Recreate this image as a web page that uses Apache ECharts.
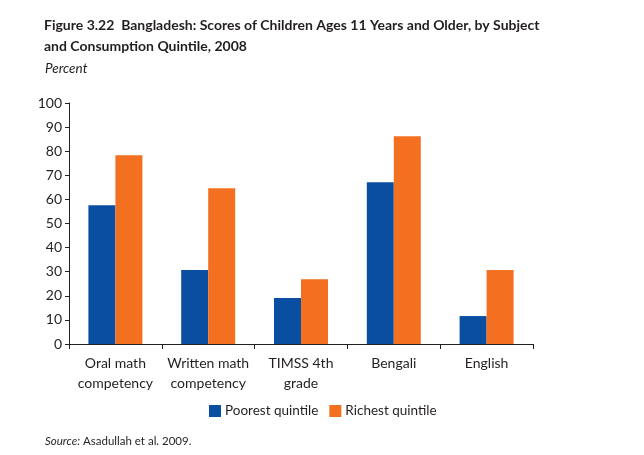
<!DOCTYPE html>
<html><head><meta charset="utf-8">
<script src="https://cdn.jsdelivr.net/npm/echarts@6/dist/echarts.min.js"></script>
<style>html,body{margin:0;padding:0;background:#fff}#c{width:644px;height:455px}</style>
</head><body><div id="c"></div>
<script>
var categories = ['Oral math\ncompetency', 'Written math\ncompetency', 'TIMSS 4th\ngrade', 'Bengali', 'English'];
var poorest = [57.6, 30.7, 19.1, 67.1, 11.6];
var richest = [78.3, 64.6, 26.9, 86.2, 30.7];
var yTicks = [0, 10, 20, 30, 40, 50, 60, 70, 80, 90, 100];
var seriesNames = ['Poorest quintile', 'Richest quintile'];

var FONT = 'Lato, "Open Sans", sans-serif';
var TXT = '#231f20';
var chart = echarts.init(document.getElementById('c'), null, {renderer: 'canvas'});
chart.setOption({
  animation: false,
  textStyle: {fontFamily: FONT, color: TXT},
  title: [
    {text: 'Figure 3.22  Bangladesh: Scores of Children Ages 11 Years and Older, by Subject\nand Consumption Quintile, 2008',
     left: 39, top: 10,
     textStyle: {fontFamily: FONT, fontWeight: 'bold', fontSize: 14, lineHeight: 21, color: TXT}},
    {text: 'Percent', left: 40, top: 57,
     textStyle: {fontFamily: FONT, fontStyle: 'italic', fontWeight: 'normal', fontSize: 13.5, color: TXT}},
    {text: '{i|Source:} Asadullah et al. 2009.', left: 40, top: 430,
     textStyle: {fontFamily: FONT, fontWeight: 'normal', fontSize: 11.5, color: TXT,
       rich: {i: {fontFamily: FONT, fontStyle: 'italic', fontSize: 11.5, color: TXT}}}}
  ],
  legend: {
    data: seriesNames, left: 204, top: 399, itemWidth: 12, itemHeight: 12, itemGap: 11,
    icon: 'rect',
    textStyle: {fontFamily: FONT, fontSize: 13.5, color: TXT, padding: [0, 0, 0, -1]}
  },
  grid: {left: 69, right: 111, top: 103, bottom: 111, containLabel: false},
  xAxis: {
    type: 'category', data: categories,
    axisLine: {lineStyle: {color: TXT, width: 1}},
    axisTick: {show: true, alignWithLabel: false, length: 5, lineStyle: {color: TXT}},
    axisLabel: {fontFamily: FONT, fontSize: 14, color: TXT, lineHeight: 20, margin: 9, interval: 0}
  },
  yAxis: {
    type: 'value', min: 0, max: 100, interval: 10,
    axisLine: {show: true, lineStyle: {color: TXT, width: 1}},
    axisTick: {show: true, length: 4, lineStyle: {color: TXT}},
    splitLine: {show: false},
    axisLabel: {fontFamily: FONT, fontSize: 14, color: TXT, margin: 7,
      formatter: function (v) { return yTicks.indexOf(v) >= 0 ? String(v) : ''; }}
  },
  series: [
    {name: seriesNames[0], type: 'bar', data: poorest, barWidth: 27, barGap: '0%',
     itemStyle: {color: '#0a4ea2'}},
    {name: seriesNames[1], type: 'bar', data: richest, barWidth: 27, barGap: '0%',
     itemStyle: {color: '#f37021'}}
  ]
});
</script></body></html>
